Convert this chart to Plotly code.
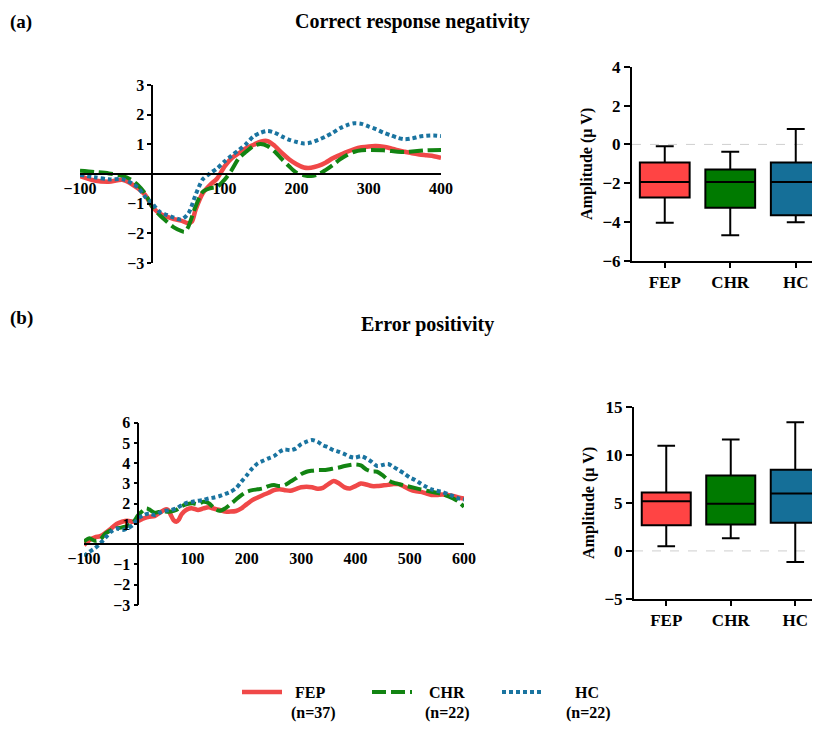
import plotly.graph_objects as go

# ---------------- DATA ----------------
groups = ["FEP", "CHR", "HC"]
group_n = ["(n=37)", "(n=22)", "(n=22)"]

# (a) Correct response negativity waveforms (ms, µV)
crn_fep_t = [-100, -80, -60, -40, -20, -10, 0, 10, 20, 30, 40, 50, 55] + list(range(60, 401, 10))
crn_fep = [-0.07, -0.22, -0.26, -0.2, -0.48, -0.7, -1.1, -1.33, -1.44, -1.52, -1.57, -1.66, -1.6,
           -1.21, -0.65, -0.37, -0.15, 0.25, 0.53, 0.7, 0.87, 0.98, 1.09, 1.11, 0.94, 0.7, 0.49,
           0.33, 0.22, 0.21, 0.27, 0.38, 0.53, 0.64, 0.75, 0.84, 0.9, 0.93, 0.94, 0.92, 0.87, 0.8,
           0.75, 0.7, 0.66, 0.63, 0.6, 0.55]
crn_chr_t = [-100, -80, -60, -40, -30, -20, -10, 0, 10, 20, 30, 40, 45] + list(range(50, 301, 10)) + [320, 340, 350, 360, 380, 400]
crn_chr = [0.11, 0.07, 0.02, -0.07, -0.18, -0.37, -0.65, -1.1, -1.38, -1.6, -1.8, -1.92, -1.95,
           -1.78, -1.1, -0.6, -0.48, -0.43, -0.2, 0.13, 0.53, 0.75, 0.94, 1.01, 0.94, 0.75, 0.49,
           0.25, 0.04, -0.04, -0.07, -0.01, 0.13, 0.3, 0.49, 0.64, 0.75, 0.8, 0.81,
           0.8, 0.75, 0.74, 0.76, 0.8, 0.81]
crn_hc_t = [-100, -80, -60, -40, -20, -10] + list(range(0, 401, 10))
crn_hc = [-0.03, -0.11, -0.18, -0.18, -0.45, -0.76, -0.99, -1.27, -1.38, -1.47, -1.53, -1.33,
          -0.71, -0.18, 0.02, 0.19, 0.42, 0.62, 0.81, 1.01, 1.26, 1.39, 1.45, 1.39, 1.26, 1.15,
          1.08, 1.03, 1.06, 1.15, 1.26, 1.39, 1.54, 1.65, 1.71, 1.69, 1.6, 1.51, 1.4, 1.31, 1.22,
          1.17, 1.2, 1.26, 1.29, 1.3, 1.28]

# (b) Error positivity waveforms
pe_fep_t = list(range(-100, 51, 10)) + [55, 60, 65, 70, 75, 80] + list(range(90, 601, 10))
pe_fep = [-0.04, 0.2, 0.34, 0.4, 0.57, 0.78, 1.0, 1.11, 1.16, 1.11, 1.16, 1.28, 1.36, 1.39, 1.56, 1.72,
          1.69, 1.44, 1.19, 1.11, 1.23, 1.49,
          1.72, 1.77, 1.69, 1.77, 1.82, 1.75, 1.69, 1.62, 1.61, 1.64, 1.77, 1.98, 2.18, 2.31, 2.43,
          2.54, 2.67, 2.71, 2.67, 2.64, 2.72, 2.81, 2.84, 2.81, 2.74, 2.78, 2.97, 3.12, 3.0, 2.81,
          2.75, 2.87, 3.0, 2.95, 2.87, 2.87, 2.9, 2.93, 2.97, 2.97, 2.84, 2.71, 2.62, 2.59, 2.51,
          2.43, 2.43, 2.46, 2.43, 2.38, 2.31, 2.26]
pe_chr_t = list(range(-100, 11, 10)) + [15] + list(range(20, 501, 10)) + [520, 540, 560, 580, 590, 600]
pe_chr = [0.13, 0.29, 0.17, 0.24, 0.54, 0.7, 0.78, 0.83, 0.9, 1.06, 1.44, 1.69, 1.77,
          1.72, 1.56, 1.61, 1.61, 1.61, 1.69, 1.88, 1.98, 2.02, 1.98, 2.1, 2.02, 1.77, 1.65, 1.77,
          1.98, 2.21, 2.43, 2.59, 2.67, 2.71, 2.76, 2.87, 2.92, 2.87, 2.92, 3.09, 3.25, 3.46, 3.58,
          3.63, 3.66, 3.66, 3.69, 3.74, 3.79, 3.86, 3.91, 3.94, 3.89, 3.69, 3.59, 3.58, 3.41, 3.17,
          3.04, 2.97, 2.9, 2.84,
          2.71, 2.59, 2.48, 2.26, 2.1, 1.85]
pe_hc_t = list(range(-100, 601, 10))
pe_hc = [-0.58, -0.37, -0.2, 0.04, 0.34, 0.62, 0.78, 0.7, 0.78, 0.95,
         1.28, 1.44, 1.52, 1.44, 1.56, 1.65, 1.69, 1.77, 1.93, 2.05, 2.1, 2.15, 2.18, 2.26, 2.31,
         2.38, 2.48, 2.59, 2.76, 3.09, 3.41, 3.74, 3.99, 4.12, 4.24, 4.35, 4.56, 4.68, 4.64, 4.72,
         4.94, 5.06, 5.14, 5.06, 4.89, 4.78, 4.64, 4.56, 4.45, 4.32, 4.28, 4.35, 4.24, 4.07, 3.86,
         3.91, 3.96, 3.82, 3.66, 3.49, 3.3, 3.17, 3.0, 2.84, 2.71, 2.64, 2.58, 2.48, 2.38, 2.26, 2.21]

# Box plot summaries (µV): lower whisker, Q1, median, Q3, upper whisker
crn_low = [-4.03, -4.68, -4.0]
crn_q1 = [-2.73, -3.26, -3.64]
crn_med = [-1.94, -1.94, -1.94]
crn_q3 = [-0.93, -1.29, -0.93]
crn_up = [-0.1, -0.38, 0.79]

pe_low = [0.49, 1.32, -1.15]
pe_q1 = [2.67, 2.74, 2.92]
pe_med = [5.17, 4.9, 5.97]
pe_q3 = [6.08, 7.85, 8.44]
pe_up = [10.94, 11.6, 13.37]

erp_a_ticks = [-100, 100, 200, 300, 400]
erp_b_ticks = [-100, 100, 200, 300, 400, 500, 600]
erp_a_yticks = [-3, -2, -1, 1, 2, 3]
erp_b_yticks = [-3, -2, -1, 1, 2, 3, 4, 5, 6]
box_a_yticks = [-6, -4, -2, 0, 2, 4]
box_b_yticks = [-5, 0, 5, 10, 15]

for t, v in [(crn_fep_t, crn_fep), (crn_chr_t, crn_chr), (crn_hc_t, crn_hc),
             (pe_fep_t, pe_fep), (pe_chr_t, pe_chr), (pe_hc_t, pe_hc)]:
    assert len(t) == len(v), (len(t), len(v))

# ---------------- STYLE ----------------
# page body has an 8px margin; the figure is sized to fit exactly in the 820x732 window
OFF = 8
W, H = 820 - 2 * OFF, 732 - 2 * OFF
FONT = "Liberation Serif, Times New Roman, serif"
line_cols = ["#F04848", "#128412", "#1A74A0"]
box_cols = ["#FF4444", "#007A00", "#156F98"]
dashes = ["solid", "14px,5px", "4px,3px"]
widths = [4.5, 4, 4]
legend_pad = ["\u00a0\u00a0", "\u00a0\u00a0\u00a0", "\u00a0\u00a0\u00a0\u00a0\u00a0\u00a0\u00a0"]
n_label_x = [313, 448, 588]

def px_x(p):
    """screen pixel x -> paper fraction"""
    return (p - OFF) / W

def px_y(p):
    """screen pixel y -> paper fraction"""
    return 1 - (p - OFF) / H

fig = go.Figure()

series_a = [(crn_fep_t, crn_fep), (crn_chr_t, crn_chr), (crn_hc_t, crn_hc)]
series_b = [(pe_fep_t, pe_fep), (pe_chr_t, pe_chr), (pe_hc_t, pe_hc)]
for i, (t, v) in enumerate(series_a):
    fig.add_trace(go.Scatter(x=t, y=v, mode="lines", xaxis="x", yaxis="y",
                             line=dict(color=line_cols[i], width=widths[i], dash=dashes[i],
                                       shape="spline", smoothing=0.8),
                             name=legend_pad[i] + groups[i], legendgroup=groups[i], showlegend=True))
for i, (t, v) in enumerate(series_b):
    fig.add_trace(go.Scatter(x=t, y=v, mode="lines", xaxis="x2", yaxis="y2",
                             line=dict(color=line_cols[i], width=widths[i], dash=dashes[i],
                                       shape="spline", smoothing=0.8),
                             name=groups[i], legendgroup=groups[i], showlegend=False))

for i, g in enumerate(groups):
    fig.add_trace(go.Box(x=[g], q1=[crn_q1[i]], median=[crn_med[i]], q3=[crn_q3[i]],
                         lowerfence=[crn_low[i]], upperfence=[crn_up[i]],
                         xaxis="x3", yaxis="y3", fillcolor=box_cols[i],
                         line=dict(color="black", width=2), width=0.76, whiskerwidth=0.36,
                         boxpoints=False, showlegend=False, hoverinfo="skip"))
    fig.add_trace(go.Box(x=[g], q1=[pe_q1[i]], median=[pe_med[i]], q3=[pe_q3[i]],
                         lowerfence=[pe_low[i]], upperfence=[pe_up[i]],
                         xaxis="x4", yaxis="y4", fillcolor=box_cols[i],
                         line=dict(color="black", width=2), width=0.76, whiskerwidth=0.36,
                         boxpoints=False, showlegend=False, hoverinfo="skip"))

tick_font = dict(family=FONT, size=16, color="black", weight="bold")
box_tick_font = dict(family=FONT, size=17, color="black", weight="bold")

a_x0, a_x1, a_y_top, a_y_bot = 80, 441, 85, 263
b_x0, b_x1, b_y_top, b_y_bot = 84, 464, 422.7, 605

def zero_pos_x(x0, x1, lo, hi):
    return px_x(x0 + (0 - lo) / (hi - lo) * (x1 - x0))

def zero_pos_y(ytop, ybot, lo, hi):
    return px_y(ybot - (0 - lo) / (hi - lo) * (ybot - ytop))

common_erp_x = dict(showgrid=False, zeroline=False, showline=True, linecolor="black", linewidth=1.5,
                    ticks="", tickfont=tick_font, anchor="free", automargin=False)
common_erp_y = dict(showgrid=False, zeroline=False, showline=True, linecolor="black", linewidth=1.5,
                    ticks="outside", ticklen=4, tickwidth=1.5, tickcolor="black",
                    tickfont=tick_font, anchor="free", automargin=False)

fig.update_layout(
    xaxis=dict(domain=[px_x(a_x0), px_x(a_x1)], range=[-100, 400], tickvals=erp_a_ticks,
               position=zero_pos_y(a_y_top, a_y_bot, -3, 3), **common_erp_x),
    yaxis=dict(domain=[px_y(a_y_bot), px_y(a_y_top)], range=[-3, 3], tickvals=erp_a_yticks,
               position=zero_pos_x(a_x0, a_x1, -100, 400), **common_erp_y),
    xaxis2=dict(domain=[px_x(b_x0), px_x(b_x1)], range=[-100, 600], tickvals=erp_b_ticks,
                position=zero_pos_y(b_y_top, b_y_bot, -3, 6), **common_erp_x),
    yaxis2=dict(domain=[px_y(b_y_bot), px_y(b_y_top)], range=[-3, 6], tickvals=erp_b_yticks,
                position=zero_pos_x(b_x0, b_x1, -100, 600), **common_erp_y),
)

box_x_common = dict(type="category", categoryorder="array", categoryarray=groups,
                    showgrid=False, zeroline=False, showline=True, linecolor="black", linewidth=2,
                    ticks="outside", ticklen=5, tickwidth=2, tickcolor="black",
                    tickfont=box_tick_font, automargin=False)
box_y_common = dict(showgrid=False, zeroline=False, showline=True, linecolor="black", linewidth=2,
                    ticks="outside", ticklen=6, tickwidth=2, tickcolor="black",
                    tickfont=box_tick_font, automargin=False,
                    title=dict(text="Amplitude (\u03bc V)", font=dict(family=FONT, size=16, color="black", weight="bold"),
                               standoff=6))

ba_x0, ba_step, ba_top, ba_bot = 632, 65.5, 66.7, 261
bb_x0, bb_step, bb_top, bb_bot = 634, 64.5, 406.7, 599
right_edge = OFF + W

fig.update_layout(
    xaxis3=dict(domain=[px_x(ba_x0), 1], range=[-0.5, (right_edge - ba_x0) / ba_step - 0.5], anchor="y3", **box_x_common),
    yaxis3=dict(domain=[px_y(ba_bot), px_y(ba_top)], range=[-6, 4], tickvals=box_a_yticks, anchor="x3", **box_y_common),
    xaxis4=dict(domain=[px_x(bb_x0), 1], range=[-0.5, (right_edge - bb_x0) / bb_step - 0.5], anchor="y4", **box_x_common),
    yaxis4=dict(domain=[px_y(bb_bot), px_y(bb_top)], range=[-5, 15], tickvals=box_b_yticks, anchor="x4", **box_y_common),
)

for xr, yr in [("x3 domain", "y3"), ("x4 domain", "y4")]:
    fig.add_shape(type="line", xref=xr, yref=yr, x0=0, x1=1, y0=0, y1=0,
                  line=dict(color="#CFCFCF", width=1, dash="dash"), layer="below")

title_font = dict(family=FONT, size=20, color="black", weight="bold")
label_font = dict(family=FONT, size=19, color="black", weight="bold")
fig.add_annotation(text="(a)", x=px_x(8), y=px_y(22), xref="paper", yref="paper",
                   xanchor="left", yanchor="middle", showarrow=False, font=label_font)
fig.add_annotation(text="Correct response negativity", x=px_x(412), y=px_y(22), xref="paper", yref="paper",
                   xanchor="center", yanchor="middle", showarrow=False, font=title_font)
fig.add_annotation(text="(b)", x=px_x(8), y=px_y(318), xref="paper", yref="paper",
                   xanchor="left", yanchor="middle", showarrow=False, font=label_font)
fig.add_annotation(text="Error positivity", x=px_x(428), y=px_y(325), xref="paper", yref="paper",
                   xanchor="center", yanchor="middle", showarrow=False, font=title_font)

legend_font = dict(family=FONT, size=16, color="black", weight="bold")
for i in range(3):
    fig.add_annotation(text=group_n[i], x=px_x(n_label_x[i]), y=px_y(713), xref="paper", yref="paper",
                       xanchor="center", yanchor="middle", showarrow=False, font=legend_font)

fig.update_layout(
    width=W, height=H, margin=dict(l=0, r=0, t=0, b=0, autoexpand=False),
    paper_bgcolor="white", plot_bgcolor="rgba(0,0,0,0)",
    font=dict(family=FONT, color="black", size=16, weight="bold"),
    boxmode="overlay",
    legend=dict(orientation="h", x=px_x(237), y=px_y(692), xanchor="left", yanchor="middle",
                font=legend_font, entrywidth=75, entrywidthmode="pixels", valign="middle",
                itemwidth=40, bgcolor="rgba(0,0,0,0)", tracegroupgap=0),
)

fig.write_html("out.html")
